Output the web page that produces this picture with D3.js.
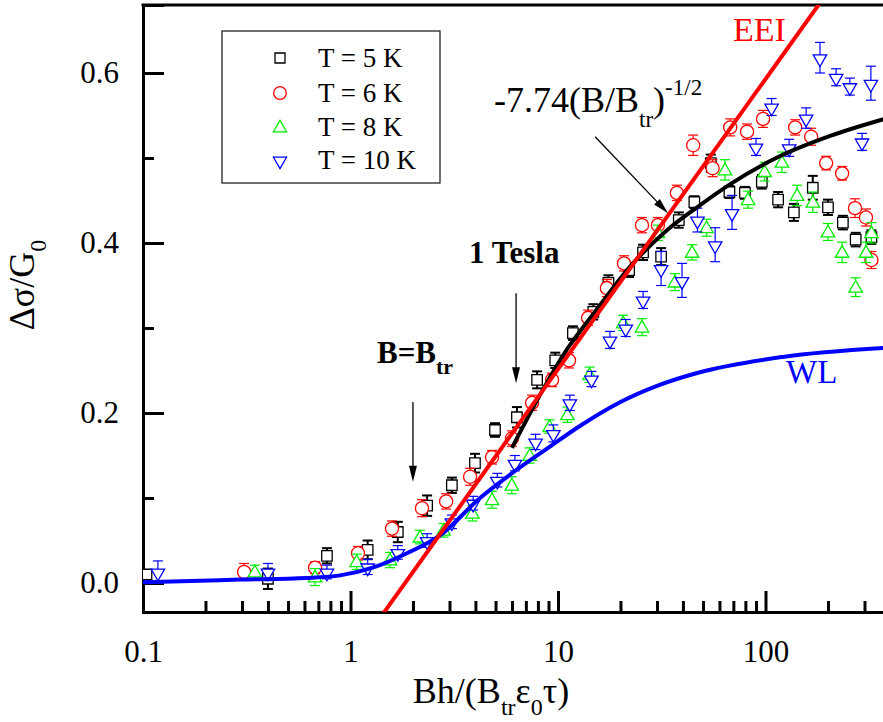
<!DOCTYPE html>
<html><head><meta charset="utf-8">
<script src="https://cdn.jsdelivr.net/npm/d3@7"></script>
<style>
body{margin:0;background:#fff}
svg{display:block;font-family:"Liberation Serif","Times New Roman",serif}
</style>
</head><body>
<svg id="c" width="883" height="722"></svg>
<script>
// ---------- data ----------
const xMajorTicks=[0.1,1,10,100];
const xTickLabels=["0.1","1","10","100"];
const yMajorTicks=[0,0.2,0.4,0.6];
const yTickLabels=["0.0","0.2","0.4","0.6"];
const yMinorTicks=[0.1,0.3,0.5];
const seriesNames=["T = 5 K","T = 6 K","T = 8 K","T = 10 K"];

const t5x=[0.104,0.40,0.77,1.21,1.69,2.34,3.08,3.98,4.97,6.34,7.93,9.7,11.8,14.8,17.5,22,25.7,31.4,38.2,45.4,54.5,67,79.6,96,115,137,169,200,236,272,324];
const t5y=[0.010,0.005,0.032,0.039,0.060,0.091,0.115,0.141,0.180,0.195,0.239,0.262,0.294,0.319,0.353,0.368,0.389,0.384,0.427,0.448,0.494,0.460,0.459,0.472,0.451,0.436,0.465,0.442,0.424,0.404,0.407];
const t5e=[0.004,0.012,0.009,0.011,0.012,0.012,0.009,0.011,0.008,0.012,0.010,0.009,0.008,0.009,0.009,0.008,0.009,0.010,0.009,0.007,0.010,0.007,0.007,0.008,0.009,0.010,0.014,0.009,0.008,0.008,0.008];

const t6x=[0.307,0.675,1.087,1.585,2.21,2.89,3.77,4.81,6.0,7.5,9.36,11.3,13.97,17.2,20.8,25.4,30.3,37.4,44.8,55.6,67.6,81.5,97.3,139,166,196,234,270,305,324];
const t6y=[0.013,0.018,0.035,0.064,0.088,0.096,0.125,0.148,0.170,0.212,0.239,0.262,0.312,0.347,0.376,0.421,0.421,0.459,0.515,0.488,0.536,0.531,0.546,0.536,0.525,0.494,0.482,0.441,0.430,0.380];
const t6e=[0.010,0.007,0.008,0.009,0.010,0.009,0.010,0.008,0.009,0.009,0.008,0.009,0.009,0.010,0.009,0.009,0.009,0.009,0.012,0.010,0.010,0.009,0.010,0.009,0.010,0.008,0.008,0.011,0.010,0.010];

const t8x=[0.346,0.675,1.07,1.55,2.16,2.81,3.87,4.81,5.99,7.3,9.1,11.1,14.2,20.6,25.4,30.3,36.6,44.3,52,63.8,82.4,99,120,142,169,200,234,272,305,324];
const t8y=[0.013,0.007,0.025,0.027,0.054,0.062,0.082,0.098,0.115,0.150,0.184,0.198,0.245,0.306,0.301,0.412,0.354,0.389,0.418,0.486,0.451,0.484,0.495,0.456,0.448,0.413,0.389,0.348,0.389,0.412];
const t8e=[0.008,0.010,0.009,0.009,0.008,0.008,0.009,0.010,0.010,0.009,0.008,0.009,0.009,0.009,0.010,0.009,0.010,0.009,0.010,0.012,0.010,0.011,0.012,0.012,0.012,0.010,0.012,0.011,0.012,0.012];

const t10x=[0.118,0.40,0.77,1.21,1.69,2.34,3.08,3.9,5.1,6.2,7.8,9.5,11.4,14.5,17.8,21.2,25.7,31.4,39.6,47,57.2,69,90,107,130,157,183,219,255,292,322];
const t10y=[0.013,0.013,0.013,0.019,0.036,0.050,0.072,0.094,0.121,0.141,0.166,0.176,0.212,0.240,0.286,0.300,0.333,0.370,0.356,0.427,0.398,0.436,0.513,0.560,0.512,0.547,0.618,0.595,0.584,0.519,0.588];
const t10e=[0.013,0.010,0.008,0.009,0.008,0.008,0.008,0.008,0.008,0.009,0.009,0.010,0.009,0.009,0.010,0.010,0.010,0.020,0.020,0.014,0.020,0.020,0.010,0.010,0.010,0.012,0.018,0.010,0.010,0.010,0.020];

// model curves
const wlX=[0.1,0.293,0.617,0.89,1.28,1.87,2.70,4.21,6.07,8.85,12.8,20,30,48.3,121,400];
const wlY=[0.001,0.004,0.006,0.009,0.018,0.035,0.056,0.100,0.130,0.158,0.185,0.213,0.232,0.248,0.266,0.277];
const eeiX=[1.38,190];
const eeiY=[-0.042,0.688];
const fitX=[6.0,11.05,15.4,22.2,33.5,46.8,67.4,117,205,400];
const fitY=[0.159,0.275,0.322,0.372,0.415,0.442,0.469,0.502,0.526,0.548];

// ---------- drawing ----------
const svg=d3.select("#c");
svg.append("rect").attr("width",883).attr("height",722).attr("fill","#fff");
const x=d3.scaleLog().domain([0.1,1000]).range([143,973]);
const y=d3.scaleLinear().domain([-0.0341,0.68]).range([612,5]);

svg.append("defs").append("clipPath").attr("id","clip")
  .append("rect").attr("x",143).attr("y",5).attr("width",760).attr("height",607);

// axes
const minorX=[];
[0.1,1,10,100].forEach(d=>{for(let k=2;k<=9;k++){minorX.push(k*d);}});
const gx=svg.append("g").attr("transform","translate(0,612)");
gx.call(d3.axisBottom(x).tickValues(xMajorTicks).tickSize(-21).tickPadding(28)
  .tickFormat((d,i)=>xTickLabels[i]));
const gxm=svg.append("g").attr("transform","translate(0,612)");
gxm.call(d3.axisBottom(x).tickValues(minorX).tickSize(-11).tickFormat(""));
gxm.select(".domain").remove();

const gy=svg.append("g").attr("transform","translate(143,0)");
gy.call(d3.axisLeft(y).tickValues(yMajorTicks).tickSize(-21).tickPadding(24)
  .tickFormat((d,i)=>yTickLabels[i]));
const gym=svg.append("g").attr("transform","translate(143,0)");
gym.call(d3.axisLeft(y).tickValues(yMinorTicks).tickSize(-11).tickFormat(""));
gym.select(".domain").remove();

svg.selectAll(".tick line").attr("stroke","#000").attr("stroke-width",3);
svg.selectAll(".domain").attr("stroke","#000").attr("stroke-width",3);
svg.selectAll(".tick text").attr("fill","#000").style("font-size","31px")
  .style("font-family",'"Liberation Serif","Times New Roman",serif');
// top frame line
svg.append("line").attr("x1",141.5).attr("x2",883).attr("y1",5).attr("y2",5)
  .attr("stroke","#000").attr("stroke-width",3);

// axis titles
const xt=svg.append("text").attr("x",491).attr("y",703).attr("text-anchor","middle")
  .style("font-size","36px").attr("fill","#000");
xt.append("tspan").text("Bh/(B");
xt.append("tspan").attr("dy",12).style("font-size","24px").text("tr");
xt.append("tspan").attr("dy",-12).text("ε");
xt.append("tspan").attr("dy",12).style("font-size","24px").text("0");
xt.append("tspan").attr("dy",-12).text("τ)");

const yt=svg.append("text").attr("transform","translate(34,285) rotate(-90)")
  .attr("text-anchor","middle").style("font-size","36px").attr("fill","#000");
yt.append("tspan").text("Δσ/G");
yt.append("tspan").attr("dy",12).style("font-size","24px").text("0");

// series
const plot=svg.append("g").attr("clip-path","url(#clip)");
const series=[
  {xs:t5x,ys:t5y,es:t5e,color:"#000000",sym:"square",ew:2,cap:10},
  {xs:t6x,ys:t6y,es:t6e,color:"#ff0000",sym:"circle",ew:1.2,cap:10},
  {xs:t8x,ys:t8y,es:t8e,color:"#00ee00",sym:"up",ew:1.2,cap:10},
  {xs:t10x,ys:t10y,es:t10e,color:"#0000ff",sym:"down",ew:1.2,cap:10}
];
function symPath(s){
  if(s==="square") return d3.symbol(d3.symbolSquare,110)();
  if(s==="circle") return d3.symbol(d3.symbolCircle,135)();
  return d3.symbol(d3.symbolTriangle,78)();
}
function drawMarker(g,s,color,cx,cy){
  const p=g.append("path").attr("d",symPath(s)).attr("fill","#fff")
    .attr("stroke",color).attr("stroke-width",1.3);
  if(s==="down") p.attr("transform",`translate(${cx},${cy+1}) rotate(180)`);
  else if(s==="up") p.attr("transform",`translate(${cx},${cy+1})`);
  else p.attr("transform",`translate(${cx},${cy})`);
}
series.forEach(se=>{
  const g=plot.append("g");
  se.xs.forEach((xv,i)=>{
    const cx=x(xv), cy=y(se.ys[i]);
    const y1=y(se.ys[i]+se.es[i]), y2=y(se.ys[i]-se.es[i]);
    g.append("line").attr("x1",cx).attr("x2",cx).attr("y1",y1).attr("y2",y2)
      .attr("stroke",se.color).attr("stroke-width",se.ew);
    [y1,y2].forEach(yy=>g.append("line").attr("x1",cx-se.cap/2).attr("x2",cx+se.cap/2)
      .attr("y1",yy).attr("y2",yy).attr("stroke",se.color).attr("stroke-width",se.ew));
    drawMarker(g,se.sym,se.color,cx,cy);
  });
});

// curves
const line=d3.line().curve(d3.curveMonotoneX);
plot.append("path").attr("d",line(wlX.map((v,i)=>[x(v),y(wlY[i])])))
  .attr("fill","none").attr("stroke","#0000ff").attr("stroke-width",4);
plot.append("path").attr("d",line(fitX.map((v,i)=>[x(v),y(fitY[i])])))
  .attr("fill","none").attr("stroke","#000").attr("stroke-width",4);
plot.append("path").attr("d",d3.line()(eeiX.map((v,i)=>[x(v),y(eeiY[i])])))
  .attr("fill","none").attr("stroke","#ff0000").attr("stroke-width",4);

// legend
const lg=svg.append("g");
lg.append("rect").attr("x",222).attr("y",31).attr("width",218).attr("height",152)
  .attr("fill","#fff").attr("stroke","#222").attr("stroke-width",1.3);
const legRows=[58,93,127,160];
series.forEach((se,i)=>{
  const ly=legRows[i];
  const p=lg.append("path").attr("fill","#fff").attr("stroke",se.color).attr("stroke-width",1.3);
  if(se.sym==="square") p.attr("d",d3.symbol(d3.symbolSquare,100)()).attr("transform",`translate(280,${ly})`);
  else if(se.sym==="circle") p.attr("d",d3.symbol(d3.symbolCircle,125)()).attr("transform",`translate(280,${ly})`);
  else if(se.sym==="up") p.attr("d",d3.symbol(d3.symbolTriangle,75)()).attr("transform",`translate(280,${ly+1})`);
  else p.attr("d",d3.symbol(d3.symbolTriangle,75)()).attr("transform",`translate(280,${ly+1}) rotate(180)`);
  lg.append("text").attr("x",318).attr("y",ly).attr("dy","0.35em").style("font-size","27px")
    .attr("fill","#000").text(seriesNames[i]);
});

// annotations
function arrow(x1,y1,x2,y2){
  const dx=x2-x1, dy=y2-y1, L=Math.hypot(dx,dy), ux=dx/L, uy=dy/L;
  const hl=16, hw=4;
  const bx=x2-ux*hl, by=y2-uy*hl;
  svg.append("line").attr("x1",x1).attr("y1",y1).attr("x2",bx+ux*2).attr("y2",by+uy*2)
    .attr("stroke","#000").attr("stroke-width",1.3);
  svg.append("path").attr("d",`M${x2},${y2}L${bx-uy*hw},${by+ux*hw}L${bx+uy*hw},${by-ux*hw}Z`)
    .attr("fill","#000");
}
arrow(x(6.28),y(0.341),x(6.28),y(0.235));
arrow(x(2.0),y(0.213),x(2.0),y(0.119));
arrow(x(15.1),y(0.525),x(33.9),y(0.435));

svg.append("text").attr("x",469).attr("y",263).style("font-size","31px").style("font-weight","bold")
  .attr("fill","#000").text("1 Tesla");
const bb=svg.append("text").attr("x",377).attr("y",363).style("font-size","31px").style("font-weight","bold").attr("fill","#000");
bb.append("tspan").text("B=B");
bb.append("tspan").attr("dy",11).style("font-size","22px").text("tr");

const ft=svg.append("text").attr("x",494).attr("y",112).style("font-size","36px").attr("fill","#000");
ft.append("tspan").text("-7.74(B/B");
ft.append("tspan").attr("dy",15).style("font-size","23px").text("tr");
ft.append("tspan").attr("dy",-15).text(")");
ft.append("tspan").attr("dy",-17).style("font-size","23px").text("-1/2");

svg.append("text").attr("x",733).attr("y",41).style("font-size","34px").attr("fill","#ff0000").text("EEI");
svg.append("text").attr("x",786).attr("y",383).style("font-size","33px").attr("fill","#0000ff").text("WL");
</script>
</body></html>
